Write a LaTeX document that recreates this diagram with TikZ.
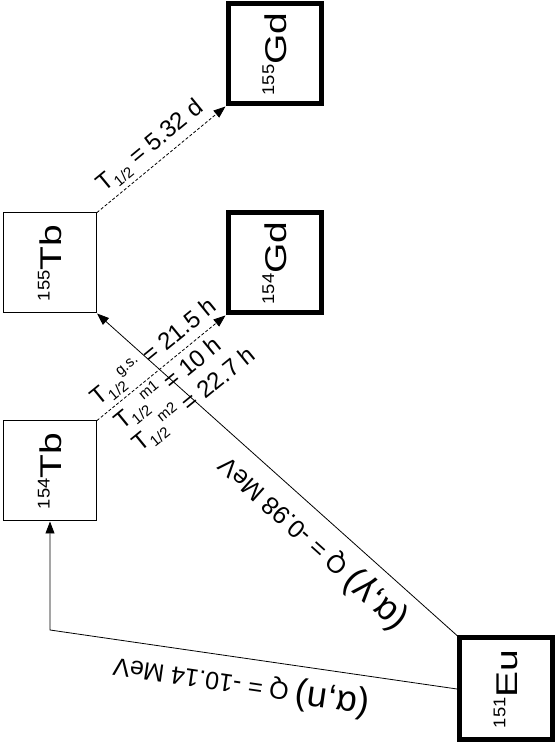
\documentclass[tikz,border=0pt]{standalone}
\usepackage{fontspec}
\usepackage{graphicx}
\setmainfont{Liberation Sans}
\usetikzlibrary{arrows.meta,positioning}

\newcommand{\nuc}[2]{\rotatebox{90}{\scalebox{1.08}[1]{\fontsize{17}{17}\selectfont\raisebox{12pt}{#1}}\scalebox{1.3}[1]{#2}}}
\newcommand{\thalf}[1]{T{\fontsize{15}{15}\selectfont\raisebox{-5pt}{1/2}\raisebox{10pt}{#1}}}

\begin{document}
\begin{tikzpicture}[x=1pt, y=1pt, node distance=208pt]
    \tikzstyle{stable} = [rectangle, draw, line width=5pt, minimum width=93pt, minimum height=100pt, inner sep=0pt, font=\fontsize{30}{36}\selectfont]
    \tikzstyle{unstable} = [rectangle, draw, line width=1pt, minimum width=93pt, minimum height=100pt, inner sep=0pt, font=\fontsize{30}{36}\selectfont]
    \tikzstyle{reaction} = [line width=0.8pt, -{Triangle[length=12pt,width=9pt]}]
    \tikzstyle{decay} = [line width=0.8pt, dash pattern=on 3pt off 2pt, -{Triangle[length=12pt,width=9pt]}]
    \tikzstyle{halflife} = [font=\fontsize{24}{29}\selectfont]
    \tikzstyle{qvalue} = [font=\fontsize{25}{30}\selectfont]

    \useasboundingbox (0,0) rectangle (557,743);

    % Tb isotopes
    \node [unstable] (tb154) at (50,272) {\nuc{154}{Tb}};
    \node [unstable, above of=tb154] (tb155) {\nuc{155}{Tb}};

    % Gd isotopes
    \node [stable, right of=tb155, node distance=224.5pt] (gd154) {\nuc{154}{Gd}};
    \node [stable, above of=gd154, node distance=209pt] (gd155) {\nuc{155}{Gd}};

    % Target
    \node [stable, minimum width=92.5pt, minimum height=102pt] (eu151) at (505.75,54) {\nuc{151}{Eu}};

    % Reactions
    \coordinate (bend) at (tb154.south |- 0,113);
    \draw [reaction] (eu151.north west) -- node [qvalue, pos=0.35, sloped, allow upside down, above, inner sep=11pt] (qgamma) {{\fontsize{36}{40}\selectfont(α,γ)} Q = -0.98 MeV} (tb155.south east);
    \draw [reaction] (eu151.west) -- node [qvalue, pos=0.52, sloped, allow upside down, above, inner sep=11pt] (qn) {{\fontsize{36}{40}\selectfont(α,n)} Q = -10.14 MeV} (bend) -- (tb154.south);

    % Decays
    \draw [decay] (tb155.north east) -- node [halflife, sloped, above, inner sep=5pt] (t155) {\thalf{} = 5.32 d} (gd155.south west);
    \draw [decay] (tb154.north east) -- node [halflife, pos=0.035, sloped, anchor=south west, inner sep=4pt] (tgs) {\thalf{g.s.} = 21.5 h}
        node [halflife, pos=0.06, sloped, anchor=north west, inner sep=3pt, align=left] (tm) {\thalf{m1} = 10 h\\\thalf{m2} = 22.7 h} (gd154.south west);
\end{tikzpicture}
\end{document}
